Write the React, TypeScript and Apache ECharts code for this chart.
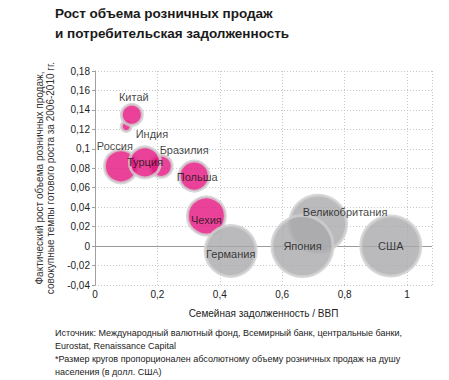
import React, { useEffect, useRef } from "react";
import * as echarts from "echarts";

const countries = ["Индия", "Китай", "Россия", "Бразилия", "Турция", "Польша", "Чехия", "Германия", "Великобритания", "Япония", "США"];
const debtToGdp = [0.1, 0.118, 0.083, 0.212, 0.16, 0.318, 0.357, 0.435, 0.715, 0.665, 0.948];
const retailGrowth = [0.123, 0.135, 0.082, 0.082, 0.086, 0.072, 0.031, -0.005, 0.023, 0.0, 0.0];
const bubbleSize = [10, 21, 33, 22, 31, 30, 38, 51, 57, 61, 60];
const emerging = [true, true, true, true, true, true, true, false, false, false, false];

const title1 = "Рост объема розничных продаж";
const title2 = "и потребительская задолженность";
const yName = "Фактический рост объема розничных продаж,\nсовокупные темпы готового роста за 2006-2010 гг.";
const xName = "Семейная задолженность / ВВП";
const notes = [
  "Источник: Международный валютный фонд, Всемирный банк, центральные банки,",
  "Eurostat, Renaissance Capital",
  "*Размер кругов пропорционален абсолютному объему розничных продаж на душу",
  "населения (в долл. США)",
];

const labelPos: Record<string, any> = {
  "Индия": { position: "right", offset: [-2, 8] },
  "Китай": { position: "top", offset: [2, 5] },
  "Россия": { position: "top", offset: [-6, 8] },
  "Бразилия": { position: "top", offset: [23, 7] },
  "Турция": { position: "inside", offset: [0, 0] },
  "Польша": { position: "inside", offset: [3, 1] },
  "Чехия": { position: "inside", offset: [0, 4] },
  "Германия": { position: "inside", offset: [0, 3] },
  "Великобритания": { position: "inside", offset: [27, -12] },
  "Япония": { position: "inside", offset: [0, 0] },
  "США": { position: "inside", offset: [0, 0] },
};

const fmt = (v: number) => String(Math.round(v * 100) / 100).replace(".", ",");

export default function App() {
  const ref = useRef<HTMLDivElement>(null);
  useEffect(() => {
    document.body.style.margin = "0";
    const chart = echarts.init(ref.current!, null, { renderer: "svg" });
    const font = "'Liberation Sans', Arial, sans-serif";
    const data = countries.map((name, i) => ({
      name,
      value: [debtToGdp[i], retailGrowth[i], bubbleSize[i]],
      symbolSize: bubbleSize[i],
      itemStyle: {
        color: emerging[i] ? "#e3137e" : "#a9a9ab",
        borderColor: "#d0d0d0",
        borderWidth: 3,
      },
      label: {
        show: true,
        formatter: name,
        color: "#111",
        fontSize: 11,
        fontFamily: font,
        textBorderWidth: 0,
        ...labelPos[name],
      },
    }));
    chart.setOption({
      animation: false,
      textStyle: { fontFamily: font },
      grid: { left: 95, top: 71, right: 17, bottom: 95 },
      xAxis: {
        type: "value",
        min: 0,
        max: 1.08,
        interval: 0.2,
        name: xName,
        nameLocation: "middle",
        nameGap: 23,
        nameTextStyle: { fontSize: 10, color: "#222", fontFamily: font },
        axisLine: { show: false, onZero: false },
        axisTick: { show: false },
        axisLabel: { fontSize: 10, color: "#222", margin: 4, formatter: fmt, showMaxLabel: false },
        splitLine: { show: true, lineStyle: { color: "#c8c8c8", type: [1, 2], width: 1 } },
      },
      yAxis: {
        type: "value",
        min: -0.04,
        max: 0.18,
        interval: 0.02,
        name: yName,
        nameLocation: "middle",
        nameGap: 18,
        nameTextStyle: { fontSize: 10, color: "#333", fontFamily: font, lineHeight: 11 },
        axisLine: { show: true, lineStyle: { color: "#a0a0a0", width: 1 } },
        axisTick: { show: true, length: 3, inside: false, lineStyle: { color: "#a0a0a0" } },
        axisLabel: { fontSize: 10, color: "#222", margin: 5, formatter: fmt },
        splitLine: { show: true, lineStyle: { color: "#c8c8c8", type: [1, 2], width: 1 } },
      },
      series: [
        {
          type: "scatter",
          data,
          markLine: {
            silent: true,
            symbol: "none",
            label: { show: false },
            lineStyle: { color: "#9a9a9a", type: "solid", width: 1.2 },
            data: [{ yAxis: 0 }],
            z: 1,
          },
        },
      ],
      graphic: [
        { type: "text", left: 55, top: 6, style: { text: title1, font: `bold 13.5px ${font}`, fill: "#1a1a1a" } },
        { type: "text", left: 55, top: 26, style: { text: title2, font: `bold 13.5px ${font}`, fill: "#1a1a1a" } },
        ...notes.map((t, i) => ({
          type: "text",
          left: 55,
          top: 328 + i * 13,
          style: { text: t, font: `9px ${font}`, fill: "#1a1a1a" },
        })),
      ],
    });
    return () => chart.dispose();
  }, []);
  return <div ref={ref} style={{ width: 449, height: 380 }} />;
}
